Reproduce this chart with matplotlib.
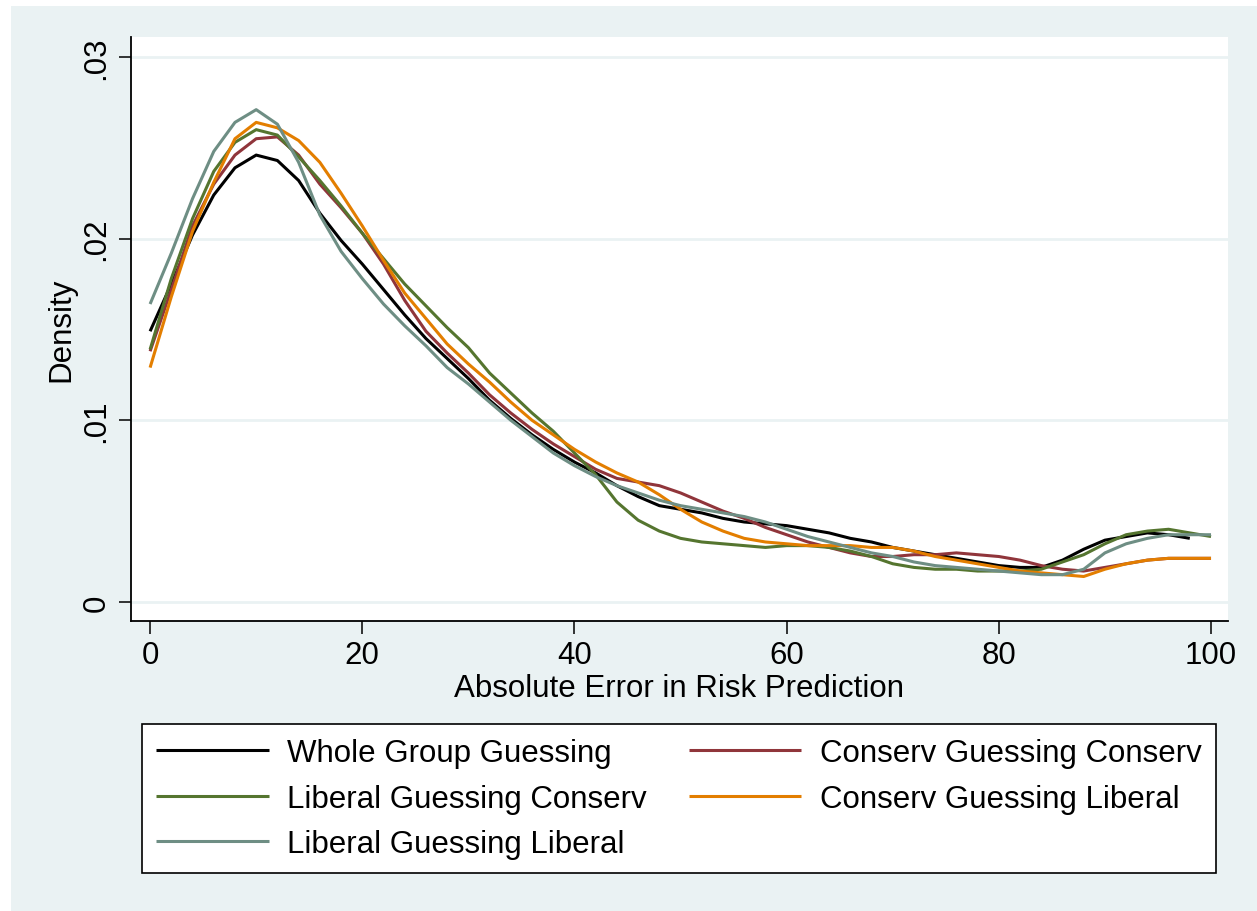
import matplotlib
matplotlib.use("Agg")
import matplotlib.pyplot as plt
from matplotlib.patches import Rectangle

plt.rcParams['font.family'] = ['Liberation Sans', 'DejaVu Sans']

# grid of evaluation points (Stata kdensity style)
x_full = list(range(0, 101, 2))
x_whole = list(range(0, 99, 2))

whole = [.0149, .0175, .0202, .0224, .0239, .0246, .0243, .0232, .0214, .0199,
         .0186, .0172, .0158, .0145, .0134, .0123, .0111, .0101, .0092, .0084,
         .0077, .0071, .0064, .0058, .0053, .0051, .0049, .0046, .0044, .0043,
         .0042, .0040, .0038, .0035, .0033, .0030, .0028, .0026, .0024, .0022,
         .0020, .0019, .0019, .0023, .0029, .0034, .0036, .0038, .0037, .0035]

cons_cons = [.0138, .0172, .0207, .0230, .0246, .0255, .0256, .0246, .0230, .0217,
             .0203, .0186, .0166, .0149, .0137, .0126, .0114, .0104, .0095, .0087,
             .0080, .0073, .0068, .0066, .0064, .0060, .0055, .0050, .0046, .0041,
             .0037, .0033, .0030, .0027, .0025, .0025, .0026, .0026, .0027, .0026,
             .0025, .0023, .0020, .0018, .0017, .0019, .0021, .0023, .0024, .0024,
             .0024]

lib_cons = [.0139, .0178, .0211, .0237, .0253, .0260, .0257, .0245, .0232, .0218,
            .0203, .0189, .0175, .0163, .0151, .0140, .0126, .0115, .0104, .0094,
            .0082, .0070, .0055, .0045, .0039, .0035, .0033, .0032, .0031, .0030,
            .0031, .0031, .0030, .0028, .0025, .0021, .0019, .0018, .0018, .0017,
            .0017, .0017, .0018, .0022, .0026, .0032, .0037, .0039, .0040, .0038,
            .0036]

cons_lib = [.0129, .0168, .0204, .0231, .0255, .0264, .0261, .0254, .0242, .0225,
            .0207, .0188, .0170, .0156, .0142, .0131, .0121, .0110, .0100, .0092,
            .0084, .0077, .0071, .0066, .0059, .0051, .0044, .0039, .0035, .0033,
            .0032, .0031, .0031, .0031, .0030, .0030, .0028, .0025, .0023, .0021,
            .0019, .0017, .0016, .0015, .0014, .0018, .0021, .0023, .0024, .0024,
            .0024]

lib_lib = [.0164, .0192, .0222, .0248, .0264, .0271, .0263, .0242, .0213, .0193,
           .0178, .0164, .0152, .0141, .0129, .0120, .0110, .0100, .0091, .0082,
           .0075, .0069, .0064, .0060, .0056, .0053, .0051, .0049, .0047, .0044,
           .0040, .0036, .0033, .0030, .0027, .0025, .0022, .0020, .0019, .0018,
           .0017, .0016, .0015, .0015, .0018, .0027, .0032, .0035, .0037, .0037,
           .0037]

labels = ["Whole Group Guessing", "Conserv Guessing Conserv", "Liberal Guessing Conserv",
          "Conserv Guessing Liberal", "Liberal Guessing Liberal"]
x_ticks = [0, 20, 40, 60, 80, 100]
y_ticks = [0, .01, .02, .03]
y_ticklabels = ["0", ".01", ".02", ".03"]

bg = "#EAF2F3"
fs = 22.5
fig = plt.figure(figsize=(12.57, 9.12), dpi=100, facecolor="white")
fig.patches.append(Rectangle((11 / 1257, 0), 1, 1 - 7 / 912, transform=fig.transFigure,
                             facecolor=bg, edgecolor="none", zorder=-10))

ax = fig.add_axes([131 / 1257, 1 - 622 / 912, (1228 - 131) / 1257, (622 - 38) / 912])
ax.set_facecolor("white")

lw = 2.2
kw = dict(lw=lw, solid_joinstyle="round", solid_capstyle="butt")
l1, = ax.plot(x_whole, whole, color="black", **kw)
l2, = ax.plot(x_full, cons_cons, color="#90353B", **kw)
l3, = ax.plot(x_full, lib_cons, color="#55752F", **kw)
l4, = ax.plot(x_full, cons_lib, color="#E37E00", **kw)
l5, = ax.plot(x_full, lib_lib, color="#6E8E84", **kw)

ax.set_xlim(-1.8, 101.6)
ax.set_ylim(-0.00105, 0.0311)
ax.set_xticks(x_ticks)
ax.set_yticks(y_ticks)
ax.set_yticklabels(y_ticklabels, rotation=90, va="center")
ax.grid(axis="y", color=bg, lw=2)
ax.set_axisbelow(True)
for s in ["top", "right"]:
    ax.spines[s].set_visible(False)
for s in ["left", "bottom"]:
    ax.spines[s].set_linewidth(1.3)
ax.tick_params(direction="out", length=9, width=1.1, labelsize=fs, pad=5)
ax.set_xlabel("Absolute Error in Risk Prediction", fontsize=fs, labelpad=2)
ax.set_ylabel("Density", fontsize=fs, labelpad=4)

# Stata fills legend by rows; matplotlib by columns, so reorder
handles = [l1, l3, l5, l2, l4]
names = [labels[0], labels[2], labels[4], labels[1], labels[3]]
leg = fig.legend(handles, names, ncol=2, loc="upper left",
                 bbox_to_anchor=(142 / 1257, 1 - 871 / 912, (1216 - 142) / 1257, (871 - 725) / 912),
                 mode="expand", fontsize=fs, frameon=True, fancybox=False,
                 facecolor="white", framealpha=1,
                 edgecolor="black", handlelength=3.6, handletextpad=0.6,
                 labelspacing=0.5, borderaxespad=0, borderpad=0.45)
leg.get_frame().set_linewidth(1.2)

plt.savefig("out.png", dpi=100, facecolor=fig.get_facecolor())
